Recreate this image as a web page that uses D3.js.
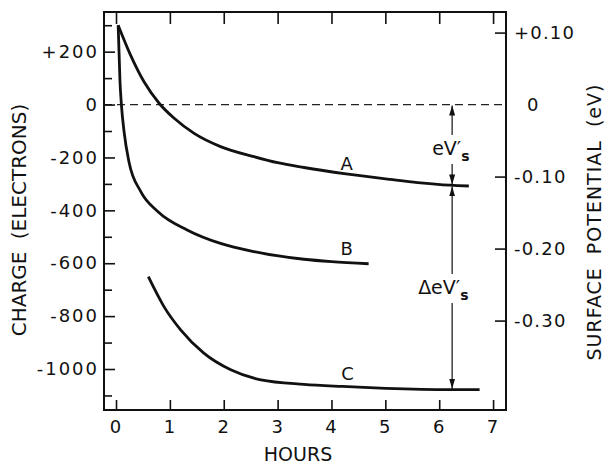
<!DOCTYPE html>
<meta charset="utf-8">
<style>

body {
  margin: 0;
  background: #fff;
}

svg {
  display: block;
}

text {
  font-family: "DejaVu Sans", sans-serif;
  fill: #111;
}

.axis path {
  display: none;
}

.axis line {
  stroke: #111;
  stroke-width: 1.6px;
}

.axis text {
  font-size: 18px;
  letter-spacing: 2px;
}

.right text {
  letter-spacing: 1.2px;
}

.curve {
  fill: none;
  stroke: #111;
  stroke-width: 2.8px;
  stroke-linejoin: round;
}

</style>
<svg width="606" height="465"></svg>
<script src="https://d3js.org/d3.v7.min.js"></script>
<script>

// curve readings, hours vs charge (electrons)
var hoursA  = [0.04, 0.27, 0.52, 0.80, 1.08, 1.45, 1.94, 2.56, 3.00, 3.49, 4.27, 5.09, 5.60, 6.20, 6.55];
var chargeA = [300, 187, 86, 5, -52, -109, -159, -197, -220, -238, -262, -283, -295, -305, -308];

var hoursB  = [0.04, 0.074, 0.10, 0.15, 0.24, 0.46, 0.78, 1.32, 1.94, 2.56, 3.49, 4.00, 4.69];
var chargeB = [300, 86, 0, -103, -216, -329, -405, -474, -525, -556, -585, -594, -602];

var hoursC  = [0.60, 0.89, 1.20, 1.63, 2.13, 2.69, 3.49, 4.20, 5.01, 6.20, 6.75];
var chargeC = [-651, -764, -852, -940, -1003, -1041, -1058, -1066, -1073, -1078, -1078];

var curveNames = ["A", "B", "C"];

// axis ticks
var hourTicks = [0, 1, 2, 3, 4, 5, 6, 7];
var chargeTicks = [200, 0, -200, -400, -600, -800, -1000];
var chargeMinor = [300, 100, -100, -300, -500, -700, -900, -1100];
var potentialTicks = [0.10, 0, -0.10, -0.20, -0.30];

// the eV' arrows sit at this hour
var arrowHour = 6.24;
var arrowLevels = [0, -306, -1078];

var svg = d3.select("svg");

var x = d3.scaleLinear().domain([-0.223, 7.24]).range([104, 506]);
var y = d3.scaleLinear().domain([-1155, 350]).range([410, 12]);
// 0.1 eV = 72 px, zero shared with charge zero
var yEv = d3.scaleLinear().domain([-0.4242, 0.1286]).range([410, 12]);

// frame
svg.append("rect")
  .attr("x", 104).attr("y", 12)
  .attr("width", 402).attr("height", 398)
  .attr("fill", "none")
  .attr("stroke", "#111")
  .attr("stroke-width", 2);

// zero line
svg.append("line")
  .attr("x1", 104).attr("x2", 506)
  .attr("y1", y(0)).attr("y2", y(0))
  .attr("stroke", "#222")
  .attr("stroke-width", 1.2)
  .attr("stroke-dasharray", "8,5");

// axes
svg.append("g").attr("class", "axis")
  .attr("transform", "translate(104,0)")
  .call(d3.axisLeft(y).tickValues(chargeTicks).tickSize(-11).tickPadding(5)
    .tickFormat(function(d) { return d > 0 ? "+" + d : String(d); }));

svg.append("g").attr("class", "axis")
  .attr("transform", "translate(104,0)")
  .call(d3.axisLeft(y).tickValues(chargeMinor).tickSize(-8).tickFormat(""));

svg.append("g").attr("class", "axis")
  .attr("transform", "translate(0,410)")
  .call(d3.axisBottom(x).tickValues(hourTicks).tickSize(-10).tickPadding(10)
    .tickFormat(function(d) { return d; }));

svg.append("g").attr("class", "axis")
  .attr("transform", "translate(0,12)")
  .call(d3.axisTop(x).tickValues(hourTicks).tickSize(-12).tickFormat(""));

var rightAxis = svg.append("g").attr("class", "axis right")
  .attr("transform", "translate(506,0)")
  .call(d3.axisRight(yEv).tickValues(potentialTicks).tickSize(-11).tickPadding(8)
    .tickFormat(function(d) {
      if (d == 0) return "0";
      return (d > 0 ? "+" : "") + d.toFixed(2);
    }));

rightAxis.selectAll(".tick").filter(function(d) { return d == 0; })
  .call(function(t) {
    t.select("line").remove();
    t.select("text").attr("x", 21);
  });

// curves
var line = d3.line()
  .x(function(d) { return x(d[0]); })
  .y(function(d) { return y(d[1]); })
  .curve(d3.curveMonotoneX);

var curves = [d3.zip(hoursA, chargeA), d3.zip(hoursB, chargeB), d3.zip(hoursC, chargeC)];

svg.selectAll(".curve")
  .data(curves)
  .enter().append("path")
  .attr("class", "curve")
  .attr("d", line);

// curve letters
var letterPos = [[4.28, -247], [4.28, -567], [4.30, -1040]];
svg.selectAll(".letter")
  .data(curveNames)
  .enter().append("text")
  .attr("class", "letter")
  .attr("x", function(d, i) { return x(letterPos[i][0]); })
  .attr("y", function(d, i) { return y(letterPos[i][1]); })
  .attr("text-anchor", "middle")
  .style("font-size", "18px")
  .text(function(d) { return d; });

// arrows
var defs = svg.append("defs");
defs.append("marker")
  .attr("id", "head")
  .attr("viewBox", "0 0 10 6")
  .attr("refX", 10).attr("refY", 3)
  .attr("markerWidth", 10).attr("markerHeight", 6)
  .attr("markerUnits", "userSpaceOnUse")
  .attr("orient", "auto-start-reverse")
  .append("path")
  .attr("d", "M0,0L10,3L0,6Z")
  .attr("fill", "#111");

var ax = x(arrowHour);

for (var i = 0; i < arrowLevels.length - 1; i++) {
  svg.append("line")
    .attr("x1", ax).attr("x2", ax)
    .attr("y1", y(arrowLevels[i]) + 1).attr("y2", y(arrowLevels[i + 1]) - 1)
    .attr("stroke", "#111")
    .attr("stroke-width", 1.2)
    .attr("marker-start", "url(#head)")
    .attr("marker-end", "url(#head)");
}

function arrowLabel(prefix, left, baseline) {
  var g = svg.append("g");
  var t = g.append("text")
    .attr("x", ax - left)
    .attr("y", baseline)
    .style("font-size", "19px");
  t.append("tspan").text(prefix + "eV\u2032");
  t.append("tspan").attr("dy", 6).style("font-size", "14px")
    .style("font-weight", "bold").text("s");
  var b = t.node().getBBox();
  g.insert("rect", "text")
    .attr("x", b.x).attr("y", b.y - 2)
    .attr("width", b.width).attr("height", b.height + 2)
    .attr("fill", "#fff");
}

arrowLabel("", 20, 155);
arrowLabel("\u0394", 34, 294);

// axis titles
svg.append("text")
  .attr("transform", "translate(19,220) rotate(-90)")
  .attr("dy", "0.36em")
  .attr("text-anchor", "middle")
  .style("font-size", "20px")
  .style("word-spacing", "6px")
  .text("CHARGE (ELECTRONS)");

svg.append("text")
  .attr("transform", "translate(594,222) rotate(-90)")
  .attr("dy", "0.36em")
  .attr("text-anchor", "middle")
  .style("font-size", "19px")
  .style("letter-spacing", "1px")
  .style("word-spacing", "6px")
  .text("SURFACE POTENTIAL (eV)");

svg.append("text")
  .attr("x", 298)
  .attr("y", 461)
  .attr("text-anchor", "middle")
  .style("font-size", "19px")
  .text("HOURS");

</script>
